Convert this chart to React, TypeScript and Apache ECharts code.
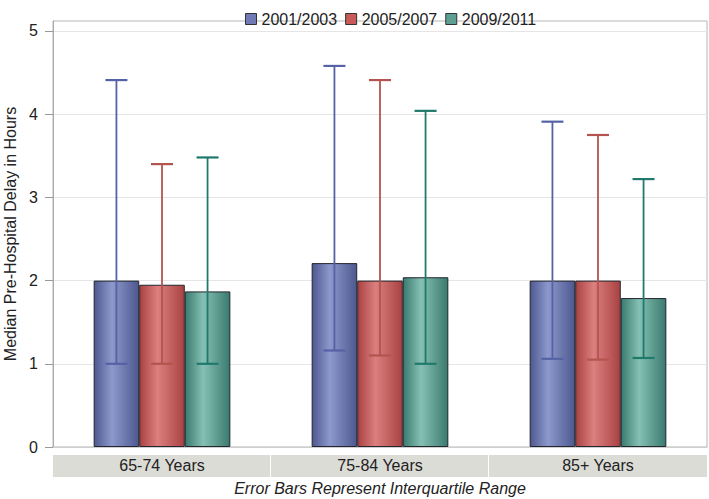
import React, { useEffect, useRef } from "react";
import * as echarts from "echarts";

const categories = ["65-74 Years", "75-84 Years", "85+ Years"];
const seriesNames = ["2001/2003", "2005/2007", "2009/2011"];
const yTicks = [0, 1, 2, 3, 4, 5];

const median2001 = [2.0, 2.21, 2.0];
const median2005 = [1.95, 2.0, 2.0];
const median2009 = [1.87, 2.04, 1.79];

const q1_2001 = [1.0, 1.16, 1.06];
const q3_2001 = [4.41, 4.58, 3.91];
const q1_2005 = [1.0, 1.1, 1.05];
const q3_2005 = [3.4, 4.41, 3.75];
const q1_2009 = [1.0, 1.0, 1.07];
const q3_2009 = [3.48, 4.04, 3.22];

const footer = "Error Bars Represent Interquartile Range";
const yName = "Median Pre-Hospital Delay in Hours";

const FONT = "Liberation Sans, Arial, sans-serif";
const BAR_FRAC = 0.209;

const palette = [
  { dark: "#4d5890", light: "#8d99cb", swatch: "#6f7ab6", whisker: "#5562a6" },
  { dark: "#a94242", light: "#dc7f7f", swatch: "#c95a5a", whisker: "#b4544f" },
  { dark: "#3a7a6e", light: "#86c0b4", swatch: "#5f9e92", whisker: "#1f7a6c" },
];

function grad(p: { dark: string; light: string }) {
  return new echarts.graphic.LinearGradient(0, 0, 1, 0, [
    { offset: 0, color: p.dark },
    { offset: 0.4, color: p.light },
    { offset: 1, color: p.dark },
  ]);
}

export default function App() {
  const ref = useRef<HTMLDivElement>(null);
  useEffect(() => {
    document.body.style.margin = "0";
    if (!ref.current) return;
    const chart = echarts.init(ref.current, undefined, { renderer: "svg" });
    const medians = [median2001, median2005, median2009];
    const q1s = [q1_2001, q1_2005, q1_2009];
    const q3s = [q3_2001, q3_2005, q3_2009];

    const barSeries = seriesNames.map((name, i) => ({
      type: "bar",
      name,
      data: medians[i],
      barWidth: BAR_FRAC * 100 + "%",
      barGap: "0%",
      itemStyle: { color: grad(palette[i]), borderColor: "#23252e", borderWidth: 1 },
      z: 2,
    }));

    const errSeries = seriesNames.map((name, i) => ({
      type: "custom",
      name: name + " IQR",
      z: 5,
      data: categories.map((_, c) => [c, q1s[i][c], q3s[i][c]]),
      renderItem: (params: any, api: any) => {
        const c = api.value(0);
        const lo = api.coord([c, api.value(1)]);
        const hi = api.coord([c, api.value(2)]);
        const bw = api.size([1, 0])[0] * BAR_FRAC;
        const x = lo[0] + (i - 1) * bw;
        const cap = 11;
        const style = { stroke: palette[i].whisker, lineWidth: 2.2 };
        return {
          type: "group",
          children: [
            { type: "line", shape: { x1: x, y1: lo[1], x2: x, y2: hi[1] }, style: { stroke: palette[i].whisker, lineWidth: 1.8 } },
            { type: "line", shape: { x1: x - cap, y1: hi[1], x2: x + cap, y2: hi[1] }, style },
            { type: "line", shape: { x1: x - cap, y1: lo[1], x2: x + cap, y2: lo[1] }, style },
          ],
        };
      },
    }));

    chart.setOption({
      animation: false,
      textStyle: { fontFamily: FONT },
      legend: {
        top: 6,
        left: 240,
        itemWidth: 11,
        itemHeight: 11,
        itemGap: 8,
        textStyle: { fontSize: 16, color: "#222", fontFamily: FONT },
        data: seriesNames.map((n, i) => ({
          name: n,
          icon: "rect",
          itemStyle: { color: palette[i].swatch, borderColor: "#333", borderWidth: 1 },
        })),
      },
      grid: {
        left: 53,
        right: 2,
        top: 21,
        bottom: 52,
        outerBoundsMode: "none",
        containLabel: false,
        show: true,
        borderColor: "#b5b5b5",
        borderWidth: 1,
      },
      xAxis: {
        type: "category",
        data: categories,
        axisLine: { lineStyle: { color: "#cfcfcf" } },
        axisTick: { show: false },
        axisLabel: { fontSize: 16, color: "#222", margin: 10, fontFamily: FONT },
      },
      yAxis: {
        type: "value",
        min: 0,
        max: 5.12,
        interval: 1,
        name: yName,
        nameLocation: "middle",
        nameGap: 34,
        nameTextStyle: { fontSize: 16, color: "#222", fontFamily: FONT },
        axisLine: { show: true, lineStyle: { color: "#aaa" } },
        axisTick: { show: true, length: 8, lineStyle: { color: "#999" }, customValues: yTicks },
        axisLabel: {
          fontSize: 16,
          color: "#222",
          margin: 15,
          fontFamily: FONT,
          customValues: yTicks,
          formatter: (v: number) => (Number.isInteger(v) ? String(v) : ""),
        },
        splitLine: { lineStyle: { color: "#e5e5e5" } },
      },
      graphic: [
        { type: "rect", z: -1, shape: { x: 53, y: 455, width: 217, height: 22 }, style: { fill: "#dcdcd7" } },
        { type: "rect", z: -1, shape: { x: 271, y: 455, width: 217, height: 22 }, style: { fill: "#dcdcd7" } },
        { type: "rect", z: -1, shape: { x: 489, y: 455, width: 218, height: 22 }, style: { fill: "#dcdcd7" } },
        {
          type: "text",
          x: 380,
          y: 488,
          style: {
            text: footer,
            font: "italic 16px " + FONT,
            fill: "#222",
            textAlign: "center",
            textVerticalAlign: "middle",
          },
        },
      ],
      series: [...barSeries, ...errSeries],
    });
    return () => chart.dispose();
  }, []);
  return <div ref={ref} style={{ width: 709, height: 499 }} />;
}
